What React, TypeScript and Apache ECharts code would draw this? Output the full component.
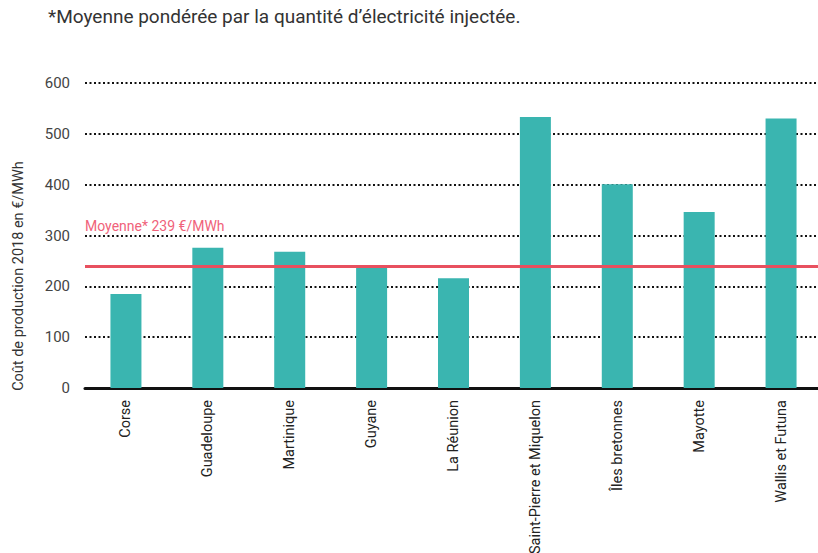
import React, { useEffect, useRef } from "react";
import * as echarts from "echarts";

const categories = [
  "Corse",
  "Guadeloupe",
  "Martinique",
  "Guyane",
  "La Réunion",
  "Saint-Pierre et Miquelon",
  "Îles bretonnes",
  "Mayotte",
  "Wallis et Futuna",
];
const costs = [185, 276, 268, 242, 216, 533, 401, 346, 530];
const average = 239;
const yTicks = { min: 0, max: 600, interval: 100 };
const note = "*Moyenne pondérée par la quantité d’électricité injectée.";
const yName = "Coût de production 2018 en €/MWh";
const avgLabel = `Moyenne* ${average} €/MWh`;

export default function App() {
  const ref = useRef<HTMLDivElement>(null);
  useEffect(() => {
    document.body.style.margin = "0";
    const chart = echarts.init(ref.current!, null, { renderer: "svg" });
    const font = "Roboto, 'Noto Sans', sans-serif";
    chart.setOption({
      animation: false,
      backgroundColor: "#ffffff",
      textStyle: { fontFamily: font },
      grid: {
        left: 85,
        top: 83,
        width: 737,
        bottom: 165,
        containLabel: false,
        outerBoundsMode: "none",
      },
      xAxis: {
        type: "category",
        data: categories,
        axisTick: { show: false },
        axisLine: { show: true, lineStyle: { color: "#111", width: 3 } },
        axisLabel: {
          rotate: 90,
          margin: 12,
          fontSize: 14.5,
          color: "#222",
          fontFamily: font,
          interval: 0,
        },
      },
      yAxis: {
        type: "value",
        min: yTicks.min,
        max: yTicks.max,
        interval: yTicks.interval,
        axisLine: { show: false },
        axisTick: { show: false },
        axisLabel: { fontSize: 15, color: "#444", margin: 15, fontFamily: font },
        splitLine: { show: true, lineStyle: { color: "#111", width: 2, type: [2, 2.5] } },
      },
      series: [
        {
          type: "bar",
          data: costs,
          barWidth: 31,
          itemStyle: { color: "#3ab5b0" },
          markLine: {
            silent: true,
            symbol: "none",
            label: { show: false },
            lineStyle: { color: "#e8505f", width: 3, type: "solid" },
            data: [{ yAxis: average }],
          },
        },
      ],
      graphic: [
        {
          type: "text",
          left: 48,
          top: 7,
          style: { text: note, fontSize: 19, fill: "#333", fontFamily: font },
        },
        {
          type: "text",
          x: 18,
          y: 276,
          rotation: Math.PI / 2,
          style: {
            text: yName,
            fontSize: 14.5,
            fill: "#333",
            fontFamily: font,
            align: "center",
            verticalAlign: "middle",
          },
        },
        {
          type: "text",
          x: 85,
          y: 226,
          style: {
            text: avgLabel,
            fontSize: 14,
            fill: "#f0627a",
            fontFamily: font,
            align: "left",
            verticalAlign: "middle",
          },
        },
      ],
    });
    return () => chart.dispose();
  }, []);
  return <div ref={ref} style={{ width: 818, height: 553 }} />;
}
